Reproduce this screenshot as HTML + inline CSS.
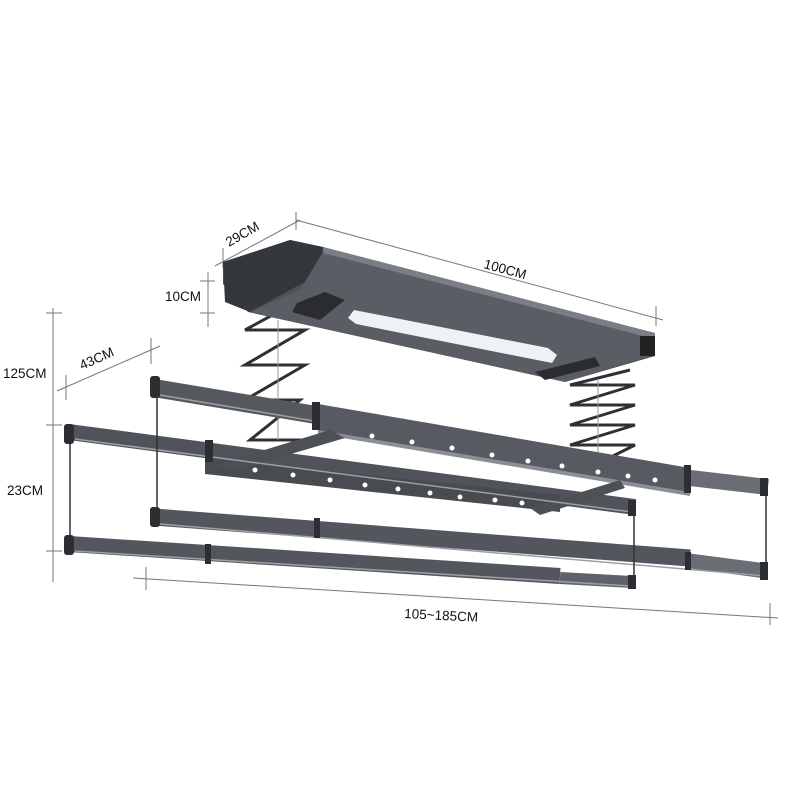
<!DOCTYPE html>
<html><head><meta charset="utf-8"><style>
html,body{margin:0;padding:0;background:#fff;}
svg{display:block}
text{font-family:"Liberation Sans",sans-serif;font-size:13.5px;fill:#111}
</style></head><body>
<svg width="800" height="800" viewBox="0 0 800 800" xmlns="http://www.w3.org/2000/svg">
<g stroke="#777" stroke-width="1" fill="none">
<line x1="215" y1="266" x2="300" y2="220"/><line x1="223" y1="248" x2="223" y2="268"/><line x1="296" y1="212" x2="296" y2="230"/>
<line x1="296" y1="220" x2="663" y2="320"/><line x1="656" y1="306" x2="656" y2="326"/>
<line x1="208" y1="272" x2="208" y2="327"/><line x1="200" y1="281" x2="215" y2="281"/><line x1="200" y1="313" x2="215" y2="313"/>
<line x1="53" y1="308" x2="53" y2="582"/><line x1="46" y1="313" x2="62" y2="313"/><line x1="46" y1="425" x2="62" y2="425"/><line x1="46" y1="551" x2="62" y2="551"/>
<line x1="57" y1="391" x2="160" y2="346"/><line x1="66" y1="375" x2="66" y2="400"/><line x1="151" y1="338" x2="151" y2="364"/>
<line x1="133" y1="578" x2="778" y2="618"/><line x1="146" y1="567" x2="146" y2="590"/><line x1="770" y1="603" x2="770" y2="625"/>
</g>
<text x="229" y="247" transform="rotate(-30 229 247)">29CM</text>
<text x="483" y="268" transform="rotate(15 483 268)">100CM</text>
<text x="165" y="301">10CM</text>
<text x="3" y="378">125CM</text>
<text x="82" y="370" transform="rotate(-24 82 370)">43CM</text>
<text x="7" y="495">23CM</text>
<text x="404" y="618" transform="rotate(3 404 618)">105~185CM</text>

<g stroke="#2e3033" stroke-width="3" fill="none">
<polyline points="300,300 245,330 305,330 245,365 305,365 245,400 300,400 250,440 305,440 260,470"/>
<polyline points="630,370 570,385 635,385 570,405 635,405 570,425 635,425 570,445 635,445 585,470"/>
</g>
<g stroke="#999" stroke-width="1"><line x1="278" y1="320" x2="278" y2="440"/><line x1="598" y1="380" x2="598" y2="460"/></g>

<!-- top box -->
<polygon points="290,240 323,247 655,333 655,356 565,382 248,312 223,284 223,262" fill="#4f5358"/>
<polygon points="290,240 323,247 323,272 250,312 225,302 223,262" fill="#34373b"/>
<polygon points="323,252 655,338 650,356 565,382 250,312 300,290" fill="#5a5e64"/>
<polygon points="323,247 655,333 655,339 323,253" fill="#7a7f86"/>
<polygon points="354,310 548,348 557,355 552,363 356,324 348,318" fill="#eef1f5"/>
<polygon points="297,303 325,292 345,300 320,320 292,312" fill="#2a2c2f"/>
<polygon points="535,372 595,357 600,366 545,380" fill="#2a2c2f"/>
<rect x="640" y="336" width="15" height="20" fill="#222"/>

<g stroke-linecap="butt">
<line x1="154" y1="388" x2="322" y2="416" stroke="#55595e" stroke-width="18"/>
<line x1="69" y1="432" x2="635" y2="507" stroke="#50545a" stroke-width="16"/>
<polygon points="318,404 690,468 690,494 318,432" fill="#575b61"/>
<polygon points="318,430 690,492 690,496 318,434" fill="#8a8f96"/>
<line x1="690" y1="478" x2="768" y2="487" stroke="#6a6e74" stroke-width="16"/>
<polygon points="205,458 560,495 560,512 205,474" fill="#484b50"/>
<polygon points="215,465 330,430 345,438 230,472" fill="#4d5156"/>
<polygon points="530,508 620,480 625,488 540,515" fill="#4d5156"/>
<line x1="154" y1="517" x2="690" y2="558" stroke="#53575d" stroke-width="17"/>
<line x1="690" y1="561" x2="766" y2="571" stroke="#6a6e74" stroke-width="15"/>
<line x1="69" y1="544" x2="560" y2="576" stroke="#53575d" stroke-width="16"/>
<line x1="560" y1="578" x2="632" y2="582" stroke="#5f6369" stroke-width="12"/>
</g>
<g stroke="#9aa0a7" stroke-width="1.5">
<line x1="160" y1="395" x2="320" y2="422"/><line x1="75" y1="439" x2="632" y2="512"/>
<line x1="160" y1="524" x2="766" y2="576"/><line x1="75" y1="551" x2="630" y2="586"/>
</g>
<g fill="#fff">
<circle cx="372" cy="436" r="2.5"/><circle cx="412" cy="442" r="2.5"/><circle cx="452" cy="448" r="2.5"/><circle cx="492" cy="455" r="2.5"/><circle cx="528" cy="461" r="2.5"/><circle cx="562" cy="466" r="2.5"/><circle cx="598" cy="472" r="2.5"/><circle cx="628" cy="476" r="2.5"/><circle cx="655" cy="480" r="2.5"/>
<circle cx="255" cy="470" r="2.5"/><circle cx="293" cy="475" r="2.5"/><circle cx="330" cy="480" r="2.5"/><circle cx="365" cy="485" r="2.5"/><circle cx="398" cy="489" r="2.5"/><circle cx="430" cy="493" r="2.5"/><circle cx="460" cy="497" r="2.5"/><circle cx="495" cy="500" r="2.5"/><circle cx="522" cy="503" r="2.5"/>
</g>
<g fill="#2c2e31">
<rect x="150" y="376" width="10" height="22" rx="3"/><rect x="64" y="424" width="10" height="20" rx="3"/>
<rect x="150" y="507" width="10" height="20" rx="3"/><rect x="64" y="535" width="10" height="20" rx="3"/>
<rect x="312" y="402" width="8" height="28"/><rect x="684" y="465" width="7" height="28"/>
<rect x="205" y="440" width="8" height="22"/><rect x="760" y="478" width="8" height="18"/><rect x="760" y="562" width="8" height="18"/>
<rect x="628" y="500" width="8" height="16"/><rect x="628" y="575" width="8" height="14"/>
<rect x="314" y="518" width="6" height="20"/><rect x="205" y="544" width="6" height="20"/><rect x="685" y="552" width="6" height="18"/>
</g>
<g stroke="#333" stroke-width="1.5">
<line x1="157" y1="398" x2="157" y2="508"/><line x1="70" y1="444" x2="70" y2="536"/><line x1="634" y1="514" x2="634" y2="576"/><line x1="766" y1="496" x2="766" y2="563"/>
</g>
</svg>
</body></html>
